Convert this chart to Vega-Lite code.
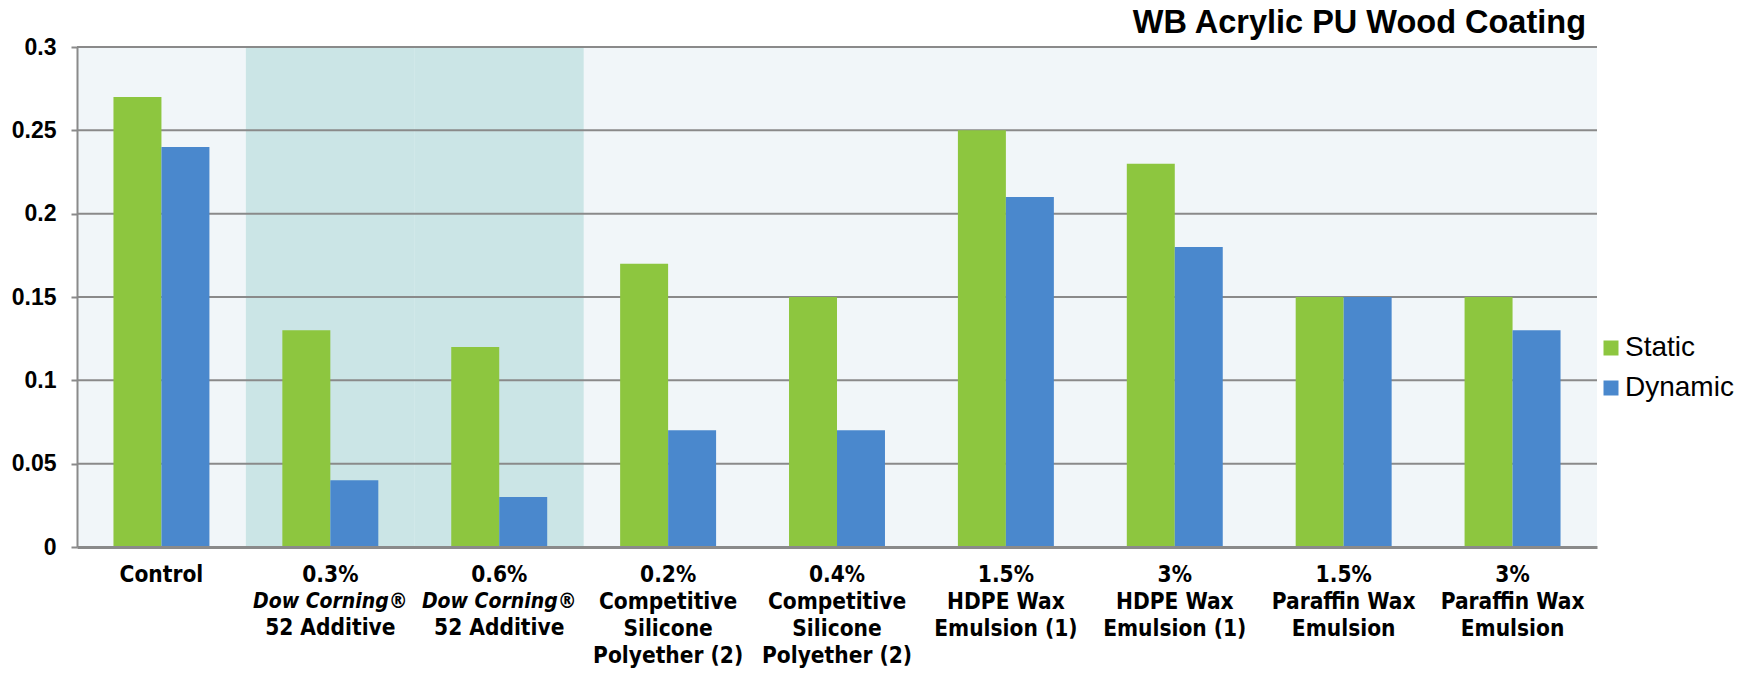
{
  "$schema": "https://vega.github.io/schema/vega-lite/v6.json",
  "autosize": {"type": "none"},
  "padding": {"left": 77, "top": 47, "right": 151, "bottom": 128},
  "width": 1520,
  "height": 500,
  "background": "white",
  "title": {
    "text": "WB Acrylic PU Wood Coating",
    "anchor": "end",
    "frame": "group",
    "font": "Liberation Sans",
    "fontSize": 32.5,
    "fontWeight": "bold",
    "color": "black",
    "dx": -11,
    "offset": -3
  },
  "config": {
    "view": {"fill": "#F1F6F9", "stroke": null}
  },
  "data": {
    "values": [
      {"cat": "Control", "series": "Static", "value": 0.27},
      {"cat": "Control", "series": "Dynamic", "value": 0.24},
      {"cat": "0.3%|Dow Corning®|52 Additive", "series": "Static", "value": 0.13},
      {"cat": "0.3%|Dow Corning®|52 Additive", "series": "Dynamic", "value": 0.04},
      {"cat": "0.6%|Dow Corning®|52 Additive", "series": "Static", "value": 0.12},
      {"cat": "0.6%|Dow Corning®|52 Additive", "series": "Dynamic", "value": 0.03},
      {"cat": "0.2%|Competitive|Silicone|Polyether (2)", "series": "Static", "value": 0.17},
      {"cat": "0.2%|Competitive|Silicone|Polyether (2)", "series": "Dynamic", "value": 0.07},
      {"cat": "0.4%|Competitive|Silicone|Polyether (2)", "series": "Static", "value": 0.15},
      {"cat": "0.4%|Competitive|Silicone|Polyether (2)", "series": "Dynamic", "value": 0.07},
      {"cat": "1.5%|HDPE Wax|Emulsion (1)", "series": "Static", "value": 0.25},
      {"cat": "1.5%|HDPE Wax|Emulsion (1)", "series": "Dynamic", "value": 0.21},
      {"cat": "3%|HDPE Wax|Emulsion (1)", "series": "Static", "value": 0.23},
      {"cat": "3%|HDPE Wax|Emulsion (1)", "series": "Dynamic", "value": 0.18},
      {"cat": "1.5%|Paraffin Wax|Emulsion", "series": "Static", "value": 0.15},
      {"cat": "1.5%|Paraffin Wax|Emulsion", "series": "Dynamic", "value": 0.15},
      {"cat": "3%|Paraffin Wax|Emulsion", "series": "Static", "value": 0.15},
      {"cat": "3%|Paraffin Wax|Emulsion", "series": "Dynamic", "value": 0.13}
    ]
  },
  "layer": [
    {
      "transform": [
        {"filter": {"field": "series", "equal": "Static"}},
        {"filter": {"field": "cat", "oneOf": ["0.3%|Dow Corning®|52 Additive", "0.6%|Dow Corning®|52 Additive"]}}
      ],
      "mark": {"type": "rect", "color": "#CBE5E6"},
      "encoding": {
        "x": {
          "field": "cat",
          "type": "nominal",
          "sort": [
            "Control",
            "0.3%|Dow Corning®|52 Additive",
            "0.6%|Dow Corning®|52 Additive",
            "0.2%|Competitive|Silicone|Polyether (2)",
            "0.4%|Competitive|Silicone|Polyether (2)",
            "1.5%|HDPE Wax|Emulsion (1)",
            "3%|HDPE Wax|Emulsion (1)",
            "1.5%|Paraffin Wax|Emulsion",
            "3%|Paraffin Wax|Emulsion"
          ]
        },
        "y": {"datum": 0, "type": "quantitative"},
        "y2": {"datum": 0.3}
      }
    },
    {
      "data": {"values": [{"tick": 0.05}, {"tick": 0.1}, {"tick": 0.15}, {"tick": 0.2}, {"tick": 0.25}, {"tick": 0.3}]},
      "mark": {"type": "rule", "color": "#8A8A8A", "strokeWidth": 2},
      "encoding": {
        "y": {"field": "tick", "type": "quantitative"}
      }
    },
    {
      "mark": {"type": "bar"},
      "encoding": {
        "x": {
          "field": "cat",
          "type": "nominal",
          "sort": [
            "Control",
            "0.3%|Dow Corning®|52 Additive",
            "0.6%|Dow Corning®|52 Additive",
            "0.2%|Competitive|Silicone|Polyether (2)",
            "0.4%|Competitive|Silicone|Polyether (2)",
            "1.5%|HDPE Wax|Emulsion (1)",
            "3%|HDPE Wax|Emulsion (1)",
            "1.5%|Paraffin Wax|Emulsion",
            "3%|Paraffin Wax|Emulsion"
          ],
          "scale": {"paddingInner": 0, "paddingOuter": 0},
          "axis": {
            "title": null,
            "labelAngle": 0,
            "labelAlign": "center",
            "labelExpr": "indexof(datum.value, 'Dow') >= 0 ? split(datum.value, '|')[0] : split(datum.value, '|')",
            "labelFont": "Liberation Sans Narrow, Arial Narrow, DejaVu Sans Condensed, sans-serif",
            "labelFontSize": 22.5,
            "labelFontWeight": "bold",
            "labelColor": "black",
            "labelLineHeight": 27,
            "labelPadding": 16,
            "labelBaseline": "top",
            "ticks": false,
            "domainColor": "#8A8A8A",
            "domainWidth": 3,
            "labelLimit": 300,
            "zindex": 1
          }
        },
        "xOffset": {
          "field": "series",
          "type": "nominal",
          "sort": ["Static", "Dynamic"],
          "scale": {"paddingInner": 0, "paddingOuter": 0.76}
        },
        "y": {
          "field": "value",
          "type": "quantitative",
          "scale": {"domain": [0, 0.3], "nice": false},
          "axis": {
            "title": null,
            "values": [0, 0.05, 0.1, 0.15, 0.2, 0.25, 0.3],
            "format": ".2~f",
            "labelFont": "Liberation Sans",
            "labelFontSize": 23,
            "labelFontWeight": "bold",
            "labelColor": "black",
            "labelPadding": 15,
            "tickSize": 6,
            "tickColor": "#8A8A8A",
            "tickWidth": 2,
            "domainColor": "#8A8A8A",
            "domainWidth": 2,
            "grid": false,
            "zindex": 1
          }
        },
        "color": {
          "field": "series",
          "type": "nominal",
          "sort": ["Static", "Dynamic"],
          "scale": {"domain": ["Static", "Dynamic"], "range": ["#8DC63F", "#4A88CD"]},
          "legend": {
            "title": null,
            "orient": "none",
            "legendX": 1520,
            "legendY": 287,
            "padding": 0,
            "symbolType": "square",
            "symbolSize": 225,
            "symbolStrokeWidth": 0,
            "labelFont": "Liberation Sans",
            "labelFontSize": 28,
            "labelColor": "black",
            "labelOffset": 0,
            "rowPadding": 12
          }
        }
      }
    },
    {
      "transform": [
        {"filter": {"field": "series", "equal": "Static"}},
        {"filter": {"field": "cat", "oneOf": ["0.3%|Dow Corning®|52 Additive", "0.6%|Dow Corning®|52 Additive"]}}
      ],
      "mark": {
        "type": "text",
        "font": "Liberation Sans Narrow, Arial Narrow, DejaVu Sans Condensed, sans-serif",
        "fontSize": 21,
        "fontWeight": "bold",
        "fontStyle": "italic",
        "color": "black",
        "baseline": "top",
        "align": "center",
        "dy": 44
      },
      "encoding": {
        "x": {
          "field": "cat",
          "type": "nominal",
          "sort": [
            "Control",
            "0.3%|Dow Corning®|52 Additive",
            "0.6%|Dow Corning®|52 Additive",
            "0.2%|Competitive|Silicone|Polyether (2)",
            "0.4%|Competitive|Silicone|Polyether (2)",
            "1.5%|HDPE Wax|Emulsion (1)",
            "3%|HDPE Wax|Emulsion (1)",
            "1.5%|Paraffin Wax|Emulsion",
            "3%|Paraffin Wax|Emulsion"
          ]
        },
        "y": {"datum": 0, "type": "quantitative"},
        "text": {"value": "Dow Corning®"}
      }
    },
    {
      "transform": [
        {"filter": {"field": "series", "equal": "Static"}},
        {"filter": {"field": "cat", "oneOf": ["0.3%|Dow Corning®|52 Additive", "0.6%|Dow Corning®|52 Additive"]}}
      ],
      "mark": {
        "type": "text",
        "font": "Liberation Sans Narrow, Arial Narrow, DejaVu Sans Condensed, sans-serif",
        "fontSize": 22.5,
        "fontWeight": "bold",
        "color": "black",
        "baseline": "top",
        "align": "center",
        "dy": 70
      },
      "encoding": {
        "x": {
          "field": "cat",
          "type": "nominal",
          "sort": [
            "Control",
            "0.3%|Dow Corning®|52 Additive",
            "0.6%|Dow Corning®|52 Additive",
            "0.2%|Competitive|Silicone|Polyether (2)",
            "0.4%|Competitive|Silicone|Polyether (2)",
            "1.5%|HDPE Wax|Emulsion (1)",
            "3%|HDPE Wax|Emulsion (1)",
            "1.5%|Paraffin Wax|Emulsion",
            "3%|Paraffin Wax|Emulsion"
          ]
        },
        "y": {"datum": 0, "type": "quantitative"},
        "text": {"value": "52 Additive"}
      }
    }
  ]
}
